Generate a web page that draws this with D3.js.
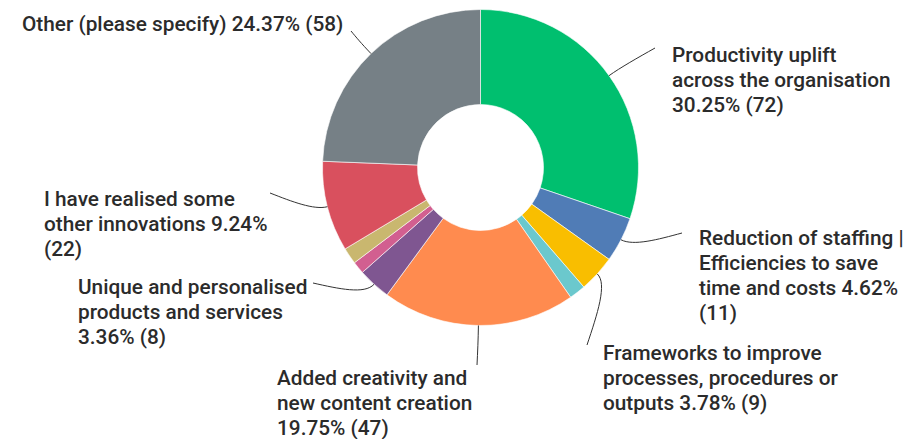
<!DOCTYPE html>
<html>
<head>
<meta charset="utf-8">
<script src="https://cdn.jsdelivr.net/npm/d3@7"></script>
<style>
  html, body { margin: 0; padding: 0; background: #fff; }
  svg { display: block; }
  .lbl { font-family: Roboto, "Noto Sans", sans-serif; font-weight: 500; font-size: 20.8px; fill: #2b2b2b; }
</style>
</head>
<body>
<svg id="chart" width="924" height="439"></svg>
<script>
// Survey answers, in clockwise order from 12 o'clock
const categories = [
  "Productivity uplift across the organisation",
  "Reduction of staffing | Efficiencies to save time and costs",
  "Frameworks to improve processes, procedures or outputs",
  "Unlabelled answer A",
  "Added creativity and new content creation",
  "Unique and personalised products and services",
  "Unlabelled answer B",
  "Unlabelled answer C",
  "I have realised some other innovations",
  "Other (please specify)"
];
const counts = [72, 11, 9, 4, 47, 8, 3, 4, 22, 58];
const colors = ["#00BF6F", "#507CB6", "#F9BE00", "#6BC8CD", "#FF8B4F",
                "#7F5691", "#D25F90", "#C9B76F", "#D9505E", "#768086"];

// Wrapped label text; {p} and {n} are filled with the percentage and the count
const labelLines = [
  ["Productivity uplift", "across the organisation", "{p}% ({n})"],
  ["Reduction of staffing |", "Efficiencies to save", "time and costs {p}%", "({n})"],
  ["Frameworks to improve", "processes, procedures or", "outputs {p}% ({n})"],
  null,
  ["Added creativity and", "new content creation", "{p}% ({n})"],
  ["Unique and personalised", "products and services", "{p}% ({n})"],
  null,
  null,
  ["I have realised some", "other innovations {p}%", "({n})"],
  ["Other (please specify) {p}% ({n})"]
];

// Label placement: text origin (first baseline) and where the leader line ends
const labelLayout = [
  { x: 672, y: 62,  end: [655, 48] },
  { x: 699, y: 245, end: [682, 233] },
  { x: 603, y: 360, end: [587, 345] },
  null,
  { x: 277, y: 385, end: [477, 365] },
  { x: 78,  y: 294, end: [313, 283] },
  null,
  null,
  { x: 44,  y: 206, end: [270, 193] },
  { x: 22,  y: 31,  end: [351, 31] }
];

const cx = 480.5, cy = 167.5, outerR = 158, innerR = 63, lineGap = 25;

const svg = d3.select("#chart");
const g = svg.append("g").attr("transform", `translate(${cx},${cy})`);

const total = d3.sum(counts);
const data = categories.map((c, i) => ({ name: c, value: counts[i], i }));

const pie = d3.pie().value(d => d.value).sort(null);
const arc = d3.arc().innerRadius(innerR).outerRadius(outerR);
const arcs = pie(data);

g.selectAll("path.slice")
  .data(arcs)
  .join("path")
  .attr("class", "slice")
  .attr("d", arc)
  .attr("fill", d => colors[d.data.i])
  .attr("stroke", "#fff")
  .attr("stroke-width", 0.6);

const polar = (r, a) => [cx + r * Math.sin(a), cy - r * Math.cos(a)];

arcs.forEach(d => {
  const i = d.data.i;
  const lines = labelLines[i];
  const lay = labelLayout[i];
  if (!lines || !lay) return;
  const mid = (d.startAngle + d.endAngle) / 2;
  const p0 = polar(outerR, mid);
  const p1 = polar(outerR + 14, mid);
  const e = lay.end;
  const c2 = [(p1[0] + e[0]) / 2, (p1[1] + e[1]) / 2];
  const path = d3.path();
  path.moveTo(p0[0], p0[1]);
  path.bezierCurveTo(p1[0], p1[1], c2[0], c2[1], e[0], e[1]);
  svg.append("path")
    .attr("d", path.toString())
    .attr("fill", "none")
    .attr("stroke", "#333")
    .attr("stroke-width", 1);

  const pct = (d.data.value / total * 100).toFixed(2);
  const text = svg.append("text").attr("class", "lbl");
  lines.forEach((ln, k) => {
    text.append("tspan")
      .attr("x", lay.x)
      .attr("y", lay.y + k * lineGap)
      .text(ln.replace("{p}", pct).replace("{n}", d.data.value));
  });
});
</script>
</body>
</html>
